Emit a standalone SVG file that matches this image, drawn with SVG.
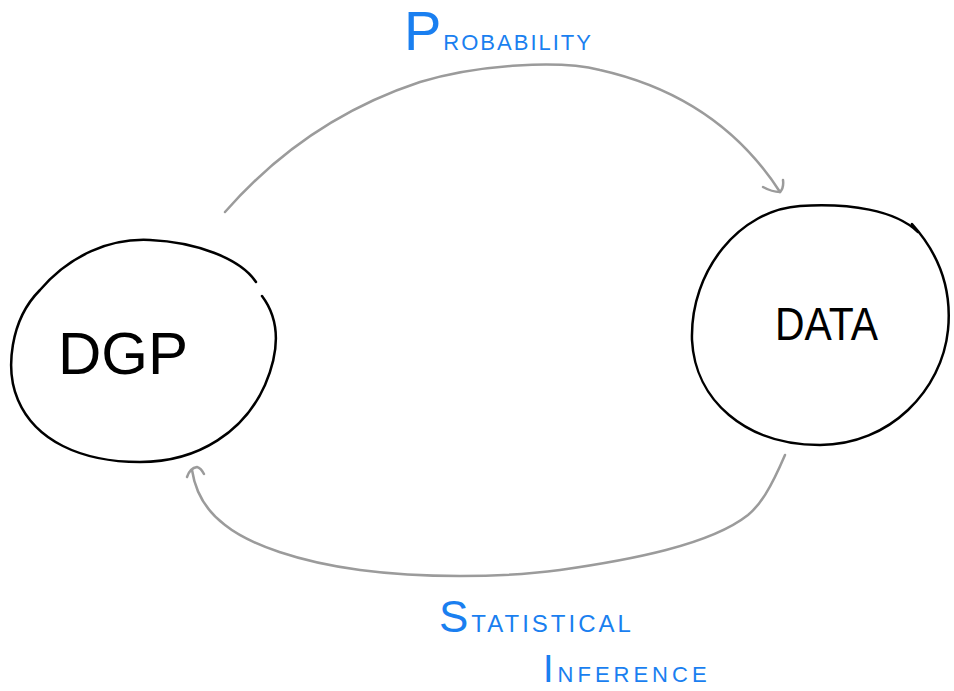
<svg xmlns="http://www.w3.org/2000/svg" width="954" height="691" viewBox="0 0 954 691">
<style>
.node{fill:none;stroke:#000;stroke-width:2.5;stroke-linecap:round;stroke-linejoin:round}
.conn{fill:none;stroke:#9b9b9b;stroke-width:2.5;stroke-linecap:round;stroke-linejoin:round}
.lbl{font-family:"Liberation Sans",Arial,sans-serif;fill:#000}
.blue{font-family:"Liberation Sans",Arial,sans-serif;fill:#1a7ff0}
</style>
<rect width="954" height="691" fill="#fff"/>
<g id="connectors">
<g id="probability">
<path class="conn" d="M 225 212 C 260 172, 320 115, 420 82 C 480 64, 560 60, 600 70 C 680 88, 740 130, 780 192"/>
<path class="conn" d="M 763 187 Q 772 192 780 192 Q 784 188 783 180"/>
<text class="blue" x="404" y="50" letter-spacing="2"><tspan font-size="56">P</tspan><tspan font-size="32" font-variant="small-caps">robability</tspan></text>
</g>
<g id="inference">
<path class="conn" d="M 785 455 C 770 490, 760 505, 748 515 C 710 545, 630 560, 560 570 C 500 578, 420 578, 360 570 C 300 562, 250 545, 225 525 C 205 510, 195 490, 192 470"/>
<path class="conn" d="M 187 477 Q 190 468 197 467 Q 201 468 204 474"/>
<text class="blue" x="439" y="632" letter-spacing="3"><tspan font-size="44">S</tspan><tspan font-size="34" font-variant="small-caps">tatistical</tspan></text>
<text class="blue" x="543" y="682" letter-spacing="4"><tspan font-size="38">I</tspan><tspan font-size="32" font-variant="small-caps">nference</tspan></text>
</g>
</g>
<g id="dgp">
<path class="node" d="M 262 296 C 280 320, 280 350, 265 385 C 245 430, 200 462, 140 462 C 80 462, 35 440, 18 400 C 5 370, 10 320, 40 290 C 70 255, 110 238, 150 240 C 195 242, 240 258, 256 282"/>
<text class="lbl" x="58" y="374" font-size="60" textLength="130" lengthAdjust="spacingAndGlyphs">DGP</text>
</g>
<g id="data">
<path class="node" d="M 912 224 C 940 255, 952 290, 948 330 C 942 390, 890 445, 820 445 C 745 445, 695 400, 692 340 C 690 270, 740 210, 800 206 C 850 203, 895 210, 918 232"/>
<text class="lbl" x="775" y="340" font-size="46" textLength="103" lengthAdjust="spacingAndGlyphs">DATA</text>
</g>
</svg>
